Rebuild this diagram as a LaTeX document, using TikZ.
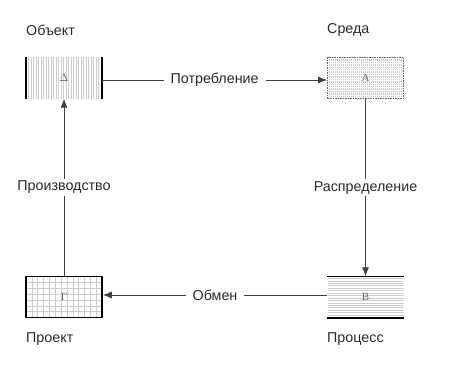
\documentclass[tikz,border=0pt]{standalone}
\usepackage{fontspec}
\setmainfont{Liberation Sans}
\newfontfamily\boxfont{Liberation Serif}
\usetikzlibrary{arrows.meta}
\definecolor{ink}{HTML}{2A2A2A}
\begin{document}
\begin{tikzpicture}[x=1pt,y=-1pt,
  txt/.style={font=\fontsize{14.3}{17}\selectfont, text=ink, inner sep=0pt},
  cornerlbl/.style={txt, anchor=west},
  lbl/.style={txt, fill=white, inner xsep=7pt, inner ysep=3pt},
  conn/.style={draw=ink!90, line width=0.8pt, -{Latex[length=9pt,width=7pt]}},
  boxbase/.style={minimum width=76pt, minimum height=41pt, inner sep=0pt,
    font=\boxfont\fontsize{11}{13}\selectfont, text=gray!85!black},
  vlines/.style={boxbase, path picture={
    \foreach \i in {1,...,30}
      \draw[gray!40, line width=0.45pt]
        ([xshift=\i*2.5pt]path picture bounding box.south west) --
        ([xshift=\i*2.5pt]path picture bounding box.north west);}},
  dotbox/.style={boxbase, draw=gray!80!black, line width=0.8pt,
    dash pattern=on 1.5pt off 1pt, path picture={
    \foreach \i in {1,...,38}
      \draw[gray!45, line width=0.5pt, dash pattern=on 0.8pt off 0.9pt]
        ([xshift=\i*2pt]path picture bounding box.south west) --
        ([xshift=\i*2pt]path picture bounding box.north west);}},
  gridbox/.style={boxbase, draw=black, line width=1.5pt, path picture={
    \foreach \i in {1,...,12}
      \draw[gray!40, line width=0.45pt]
        ([xshift=\i*5.85pt]path picture bounding box.south west) --
        ([xshift=\i*5.85pt]path picture bounding box.north west);
    \foreach \j in {1,...,6}
      \draw[gray!40, line width=0.45pt]
        ([yshift=\j*5.85pt]path picture bounding box.south west) --
        ([yshift=\j*5.85pt]path picture bounding box.south east);}},
  hlines/.style={boxbase, path picture={
    \foreach \j in {1,...,16}
      \draw[gray!40, line width=0.45pt]
        ([yshift=\j*2.45pt]path picture bounding box.south west) --
        ([yshift=\j*2.45pt]path picture bounding box.south east);}}
]
\useasboundingbox (0,0) rectangle (450,369);

% boxes
\node[vlines] (D) at (64,78) {\(\Delta\)};
\draw[line width=1.6pt] (D.north west) -- (D.south west);
\draw[line width=1.6pt] (D.north east) -- (D.south east);

\node[dotbox] (A) at (365.5,78) {А};

\node[gridbox] (G) at (64,297) {Г};

\node[hlines] (B) at (365.5,297) {В};
\draw[line width=1.6pt] (B.north west) -- (B.north east);
\draw[line width=1.6pt] (B.south west) -- (B.south east);

% corner labels
\node[cornerlbl] (lObj) at (26,30) {Объект};
\node[cornerlbl] (lEnv) at (327,30) {Среда};
\node[cornerlbl] (lPrj) at (26,339) {Проект};
\node[cornerlbl] (lPrc) at (327,339) {Процесс};

% connectors
\draw[conn] ([yshift=-2pt]D.east) -- node[lbl] {Потребление} ([yshift=-2pt]A.west);
\draw[conn] (A.south) -- node[lbl, inner xsep=1pt, inner ysep=2pt] {Распределение} (B.north);
\draw[conn] ([yshift=2pt]B.west) -- node[lbl] {Обмен} ([yshift=2pt]G.east);
\draw[conn] (G.north) -- node[lbl, inner xsep=1pt, inner ysep=2pt] {Производство} (D.south);
\end{tikzpicture}
\end{document}
